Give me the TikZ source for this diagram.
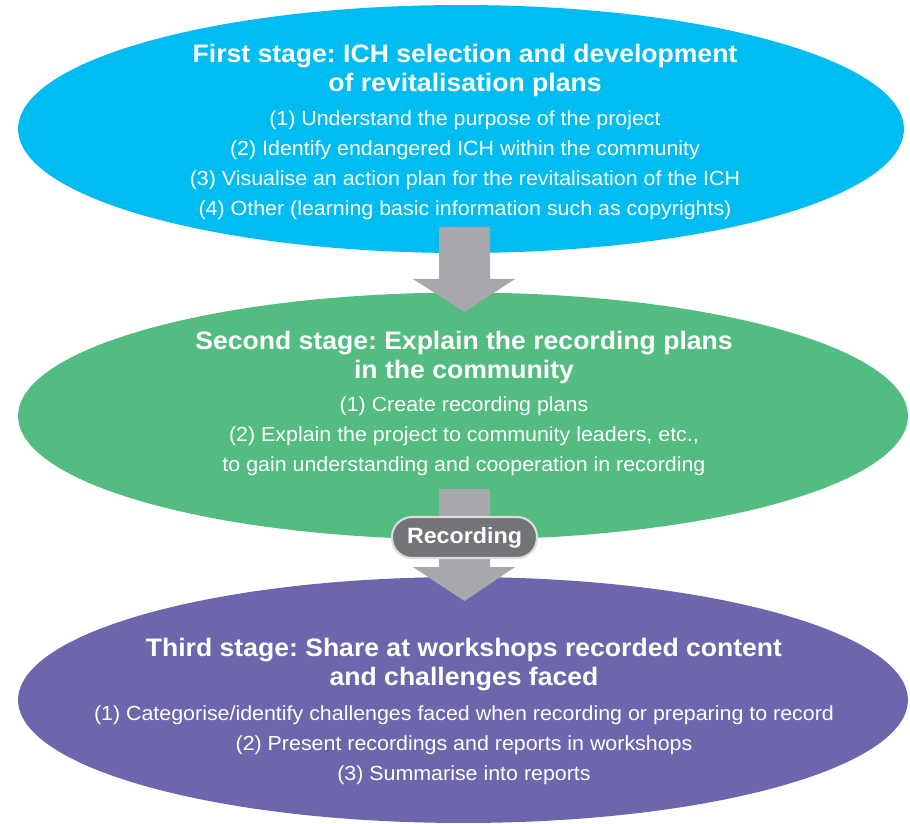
\documentclass[tikz,border=0pt]{standalone}
\usepackage{fontspec}
\setmainfont[FakeStretch=1.05]{Liberation Sans}
\usetikzlibrary{shapes.geometric}
\definecolor{stageblue}{HTML}{00BCF1}
\definecolor{stagegreen}{HTML}{53BC81}
\definecolor{stagepurple}{HTML}{6C67AD}
\definecolor{arrowgray}{HTML}{A7A8AB}
\definecolor{pillgray}{HTML}{737477}
\definecolor{pillrim}{HTML}{DCDCDD}
\frenchspacing

\begin{document}
\begin{tikzpicture}[x=0.02cm,y=-0.02cm,
  stage/.style={ellipse,inner sep=0pt,draw=none},
  title/.style={text=white,align=center,font=\bfseries\fontsize{14.4}{16.5}\selectfont},
  items/.style={text=white,align=center,font=\fontsize{11.6}{17}\selectfont}]
  \useasboundingbox (0,0) rectangle (910,824);
  % stages
  \node[stage,fill=stageblue,minimum width=17.72cm,minimum height=4.96cm] (s1) at (461,129) {};
  \node[stage,fill=stagegreen,minimum width=17.8cm,minimum height=4.94cm] (s2) at (463,416) {};
  \node[stage,fill=stagepurple,minimum width=17.8cm,minimum height=4.92cm] (s3) at (463,700) {};
  % block arrows
  \coordinate (tip1) at (464.5,312);
  \coordinate (tip2) at (464.5,601);
  \fill[arrowgray] (439,227) -- (490,227) -- (490,279) -- (515,279) -- (tip1)
    -- (413,279) -- (439,279) -- cycle;
  \fill[arrowgray] (439,489) -- (490,489) -- (490,567) -- (515,567) -- (tip2)
    -- (413,567) -- (439,567) -- cycle;
  \node[fill=pillgray,draw=pillrim,line width=1.2pt,rounded corners=0.4cm,
    minimum width=2.9cm,minimum height=0.82cm,inner sep=0pt,
    text=white,font=\bfseries\fontsize{12.6}{15}\selectfont] (rec) at (464.5,537.5) {Recording};
  % texts
  \node[title] (t1) at (465,70) {First stage: ICH selection and development\\of revitalisation plans};
  \node[items] (i1) at (465,165) {(1) Understand the purpose of the project\\
    (2) Identify endangered ICH within the community\\
    (3) Visualise an action plan for the revitalisation of the ICH\\
    (4) Other (learning basic information such as copyrights)};
  \node[title] (t2) at (464,357) {Second stage: Explain the recording plans\\in the community};
  \node[items] (i2) at (464,436) {(1) Create recording plans\\
    (2) Explain the project to community leaders, etc.,\\
    to gain understanding and cooperation in recording};
  \node[title] (t3) at (464,665) {Third stage: Share at workshops recorded content\\and challenges faced};
  \node[items] (i3) at (464,745) {(1) Categorise/identify challenges faced when recording or preparing to record\\
    (2) Present recordings and reports in workshops\\
    (3) Summarise into reports};
\end{tikzpicture}
\end{document}
